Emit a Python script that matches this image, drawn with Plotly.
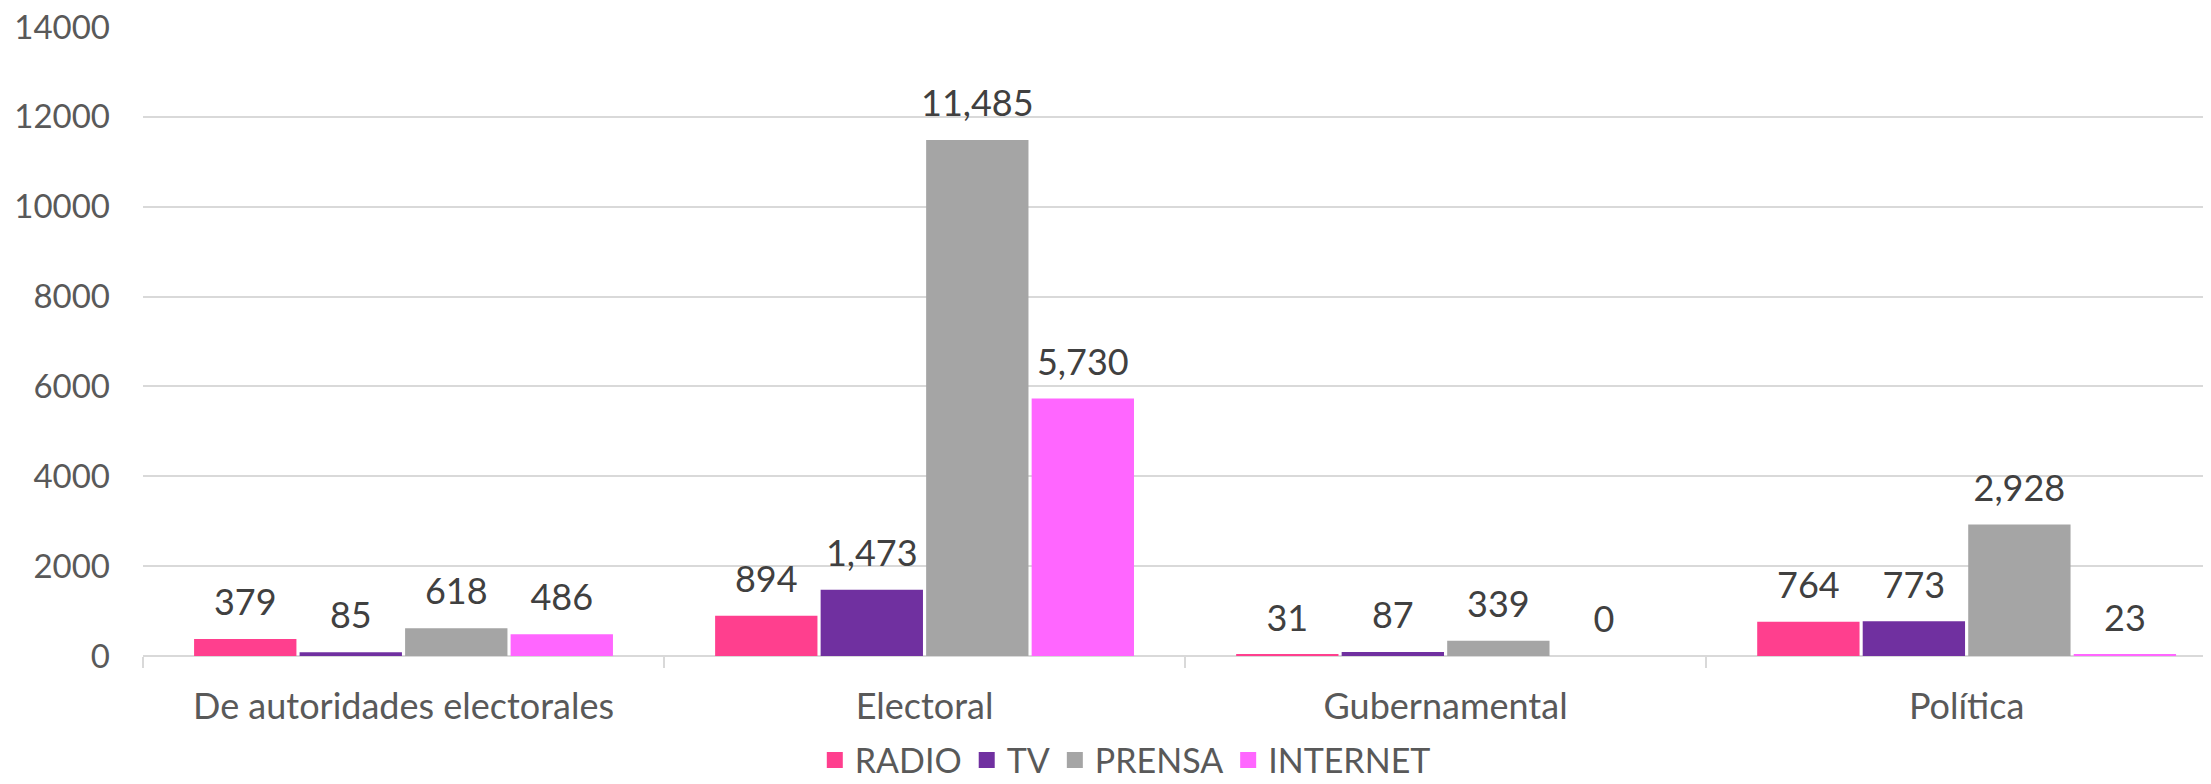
import plotly.graph_objects as go

categories = ["De autoridades electorales", "Electoral", "Gubernamental", "Política"]
radio = [379, 894, 31, 764]
tv = [85, 1473, 87, 773]
prensa = [618, 11485, 339, 2928]
internet = [486, 5730, 0, 23]

series = [
    ("RADIO", radio, "#FF3F8E"),
    ("TV", tv, "#7030A0"),
    ("PRENSA", prensa, "#A5A5A5"),
    ("INTERNET", internet, "#FF66FF"),
]

FONT = "Lato"
# the page body has an 8px default margin, so the figure is 8px smaller than the window
W, H = 2203, 776
ML, MT, MB = 135, 19, 128

fig = go.Figure()
for name, vals, color in series:
    fig.add_trace(go.Bar(
        x=categories, y=vals, name=name, showlegend=False,
        marker=dict(color=color, line=dict(width=0)),
        hoverinfo="x+y+name",
    ))
# value labels, grouped like the bars, lifted above each bar
for name, vals, color in series:
    fig.add_trace(go.Scatter(
        x=categories, y=vals, name=name, showlegend=False,
        mode="markers+text", text=[f"{v:,}" for v in vals],
        textposition="top center",
        textfont=dict(family=FONT, size=36, color="#404040"),
        marker=dict(size=22, opacity=0, color=color),
        alignmentgroup="labels", offsetgroup=name, cliponaxis=False,
        hoverinfo="skip",
    ))
# legend entries
for name, vals, color in series:
    fig.add_trace(go.Scatter(
        x=[None], y=[None], name=name, mode="markers",
        marker=dict(symbol="square", size=16, color=color),
        alignmentgroup="legend", offsetgroup="legend",
    ))

fig.update_layout(
    width=W, height=H,
    margin=dict(l=ML, r=0, t=MT, b=MB, autoexpand=False),
    paper_bgcolor="white", plot_bgcolor="white",
    barmode="group", bargap=0.19, bargroupgap=0.03,
    scattermode="group", scattergap=0.19,
    font=dict(family=FONT, size=33, color="#595959"),
    showlegend=True,
    legend=dict(orientation="h", x=0.475, xanchor="center", y=-0.166, yanchor="middle",
                font=dict(family=FONT, size=34, color="#595959"),
                itemsizing="trace", itemwidth=30, tracegroupgap=0),
)
fig.update_xaxes(
    type="category", range=[-0.5, 3.469],
    tickson="boundaries", ticks="outside", ticklen=11, tickcolor="#D9D9D9", tickwidth=2,
    showgrid=False, showline=False, zeroline=False,
    tickfont=dict(family=FONT, size=36, color="#595959"),
    ticklabelstandoff=26, automargin=False,
)
fig.update_yaxes(
    range=[0, 14000], tickmode="array",
    tickvals=[0, 2000, 4000, 6000, 8000, 10000, 12000, 14000],
    ticktext=["0", "2000", "4000", "6000", "8000", "10000", "12000", "14000"],
    showgrid=True, gridcolor="#D9D9D9", gridwidth=2,
    zeroline=True, zerolinecolor="#D9D9D9", zerolinewidth=2,
    showline=False, ticks="", ticklabeloverflow="allow",
    tickfont=dict(family=FONT, size=33, color="#595959"),
    ticklabelstandoff=32, automargin=False,
)

fig.write_html("out.html")
